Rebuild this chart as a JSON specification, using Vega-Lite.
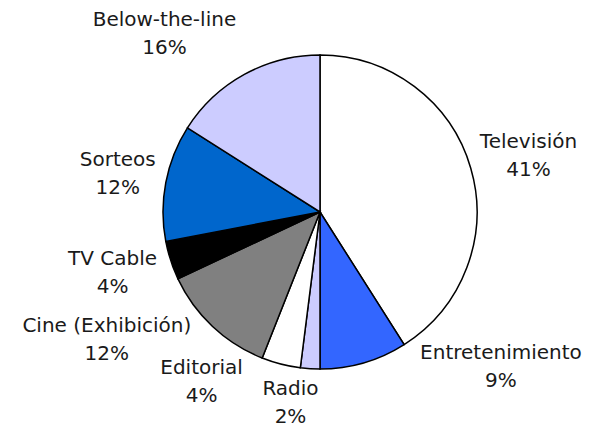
{
  "$schema": "https://vega.github.io/schema/vega-lite/v6.json",
  "autosize": "none",
  "width": 542,
  "height": 424,
  "padding": {"left": 49, "top": 0, "right": 0, "bottom": 7},
  "background": "white",
  "config": {"view": {"stroke": null}},
  "data": {
    "values": [
      {"cat": "Televisión", "pct": 41, "order": 1},
      {"cat": "Entretenimiento", "pct": 9, "order": 2},
      {"cat": "Radio", "pct": 2, "order": 3},
      {"cat": "Editorial", "pct": 4, "order": 4},
      {"cat": "Cine (Exhibición)", "pct": 12, "order": 5},
      {"cat": "TV Cable", "pct": 4, "order": 6},
      {"cat": "Sorteos", "pct": 12, "order": 7},
      {"cat": "Below-the-line", "pct": 16, "order": 8}
    ]
  },
  "transform": [
    {"window": [{"op": "sum", "field": "pct", "as": "cum"}], "sort": [{"field": "order"}], "frame": [null, 0]},
    {"calculate": "datum.cum - datum.pct / 2", "as": "mid"},
    {"calculate": "datum.cat + '\\n' + datum.pct + '%'", "as": "label"}
  ],
  "layer": [
    {
      "mark": {"type": "arc", "outerRadius": 157, "stroke": "black", "strokeWidth": 1.5},
      "encoding": {
        "theta": {"field": "pct", "type": "quantitative", "stack": true, "scale": {"domain": [0, 100]}},
        "order": {"field": "order", "type": "quantitative"},
        "color": {
          "field": "cat", "type": "nominal", "legend": null,
          "scale": {
            "domain": ["Televisión", "Entretenimiento", "Radio", "Editorial", "Cine (Exhibición)", "TV Cable", "Sorteos", "Below-the-line"],
            "range": ["#FFFFFF", "#3366FF", "#CCCCFF", "#FFFFFF", "#808080", "#000000", "#0066CC", "#CCCCFF"]
          }
        }
      }
    },
    {
      "transform": [{"filter": "datum.cat == 'Televisión'"}],
      "mark": {"type": "text", "radius": 215, "dx": 2, "dy": -10, "font": "DejaVu Sans", "fontSize": 20, "lineHeight": 28, "lineBreak": "\n", "align": "center", "baseline": "middle", "color": "#1a1a1a"},
      "encoding": {"theta": {"field": "mid", "type": "quantitative", "stack": null, "scale": {"domain": [0, 100]}}, "text": {"field": "label"}}
    },
    {
      "transform": [{"filter": "datum.cat == 'Entretenimiento'"}],
      "mark": {"type": "text", "radius": 215, "dx": 121, "dy": -65, "font": "DejaVu Sans", "fontSize": 20, "lineHeight": 28, "lineBreak": "\n", "align": "center", "baseline": "middle", "color": "#1a1a1a"},
      "encoding": {"theta": {"field": "mid", "type": "quantitative", "stack": null, "scale": {"domain": [0, 100]}}, "text": {"field": "label"}}
    },
    {
      "transform": [{"filter": "datum.cat == 'Radio'"}],
      "mark": {"type": "text", "radius": 215, "dx": -16, "dy": -38, "font": "DejaVu Sans", "fontSize": 20, "lineHeight": 28, "lineBreak": "\n", "align": "center", "baseline": "middle", "color": "#1a1a1a"},
      "encoding": {"theta": {"field": "mid", "type": "quantitative", "stack": null, "scale": {"domain": [0, 100]}}, "text": {"field": "label"}}
    },
    {
      "transform": [{"filter": "datum.cat == 'Editorial'"}],
      "mark": {"type": "text", "radius": 215, "dx": -65, "dy": -52, "font": "DejaVu Sans", "fontSize": 20, "lineHeight": 28, "lineBreak": "\n", "align": "center", "baseline": "middle", "color": "#1a1a1a"},
      "encoding": {"theta": {"field": "mid", "type": "quantitative", "stack": null, "scale": {"domain": [0, 100]}}, "text": {"field": "label"}}
    },
    {
      "transform": [{"filter": "datum.cat == 'Cine (Exhibición)'"}],
      "mark": {"type": "text", "radius": 215, "dx": -66, "dy": -43, "font": "DejaVu Sans", "fontSize": 20, "lineHeight": 28, "lineBreak": "\n", "align": "center", "baseline": "middle", "color": "#1a1a1a"},
      "encoding": {"theta": {"field": "mid", "type": "quantitative", "stack": null, "scale": {"domain": [0, 100]}}, "text": {"field": "label"}}
    },
    {
      "transform": [{"filter": "datum.cat == 'TV Cable'"}],
      "mark": {"type": "text", "radius": 215, "dx": -3, "dy": -19, "font": "DejaVu Sans", "fontSize": 20, "lineHeight": 28, "lineBreak": "\n", "align": "center", "baseline": "middle", "color": "#1a1a1a"},
      "encoding": {"theta": {"field": "mid", "type": "quantitative", "stack": null, "scale": {"domain": [0, 100]}}, "text": {"field": "label"}}
    },
    {
      "transform": [{"filter": "datum.cat == 'Sorteos'"}],
      "mark": {"type": "text", "radius": 215, "dx": 9, "dy": -12, "font": "DejaVu Sans", "fontSize": 20, "lineHeight": 28, "lineBreak": "\n", "align": "center", "baseline": "middle", "color": "#1a1a1a"},
      "encoding": {"theta": {"field": "mid", "type": "quantitative", "stack": null, "scale": {"domain": [0, 100]}}, "text": {"field": "label"}}
    },
    {
      "transform": [{"filter": "datum.cat == 'Below-the-line'"}],
      "mark": {"type": "text", "radius": 215, "dx": -52, "dy": -4, "font": "DejaVu Sans", "fontSize": 20, "lineHeight": 28, "lineBreak": "\n", "align": "center", "baseline": "middle", "color": "#1a1a1a"},
      "encoding": {"theta": {"field": "mid", "type": "quantitative", "stack": null, "scale": {"domain": [0, 100]}}, "text": {"field": "label"}}
    }
  ]
}
